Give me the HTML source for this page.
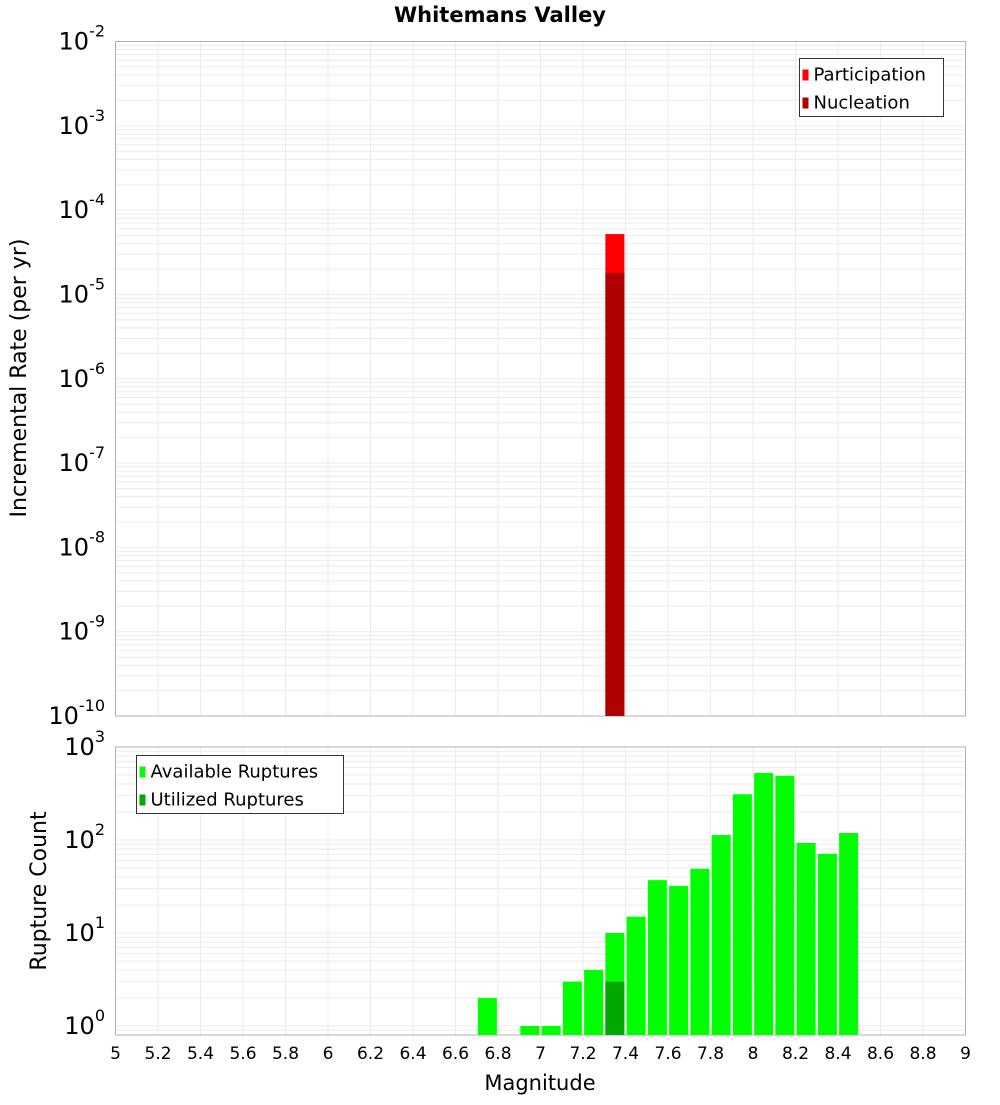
<!DOCTYPE html>
<html><head><meta charset="utf-8"><style>
body{margin:0;background:#fff}
svg text{font-family:"DejaVu Sans","Liberation Sans",sans-serif}
</style></head><body>
<svg id="c" width="1000" height="1100" xmlns="http://www.w3.org/2000/svg">
<text x="500" y="22" text-anchor="middle" font-size="21" font-weight="bold">Whitemans Valley</text>
<g id="topPlot"></g>
<g id="botPlot"></g>
<text transform="translate(26,378) rotate(-90)" text-anchor="middle" font-size="22">Incremental Rate (per yr)</text>
<text transform="translate(46,891) rotate(-90)" text-anchor="middle" font-size="22">Rupture Count</text>
<text x="540" y="1090" text-anchor="middle" font-size="21">Magnitude</text>
</svg>
<script>
const xTicks=["5","5.2","5.4","5.6","5.8","6","6.2","6.4","6.6","6.8","7","7.2","7.4","7.6","7.8","8","8.2","8.4","8.6","8.8","9"];
const rateMags=[7.35];
const participation=[5.2e-5];
const nucleation=[1.8e-5];
const countMags=[6.75,6.95,7.05,7.15,7.25,7.35,7.45,7.55,7.65,7.75,7.85,7.95,8.05,8.15,8.25,8.35,8.45];
const available=[2,1,1,3,4,10,15,37,32,49,113,310,525,490,93,71,119];
const utilizedMags=[7.35];
const utilized=[3];
const topDecades=[-2,-3,-4,-5,-6,-7,-8,-9,-10];
const botDecades=[3,2,1,0];

const NS="http://www.w3.org/2000/svg";
const X0=115.5,X1=965.5;
const xs=m=>X0+(m-5)/4*(X1-X0);
function el(p,t,a){const e=document.createElementNS(NS,t);for(const k in a)e.setAttribute(k,a[k]);p.appendChild(e);return e;}
function plot(g,yTop,yBot,lMax,lMin,decades){
  const ys=v=>yTop+(lMax-Math.log10(v))/(lMax-lMin)*(yBot-yTop);
  for(let d=Math.floor(lMin);d<lMax;d++)for(let k=1;k<10;k++){const v=k*Math.pow(10,d);const y=ys(v);if(y<yTop||y>yBot)continue;
    const l=el(g,'line',{x1:X0,x2:X1,y1:y,y2:y,stroke:'#ebebeb','stroke-width':1});
    
    }
  xTicks.forEach(t=>{const x=xs(+t);const l=el(g,'line',{x1:x,x2:x,y1:yTop,y2:yBot,stroke:'#ebebeb'});
    
    });
  decades.forEach(d=>{const y=ys(Math.pow(10,d));const t=el(g,'text',{x:105,y:y+8,'text-anchor':'end','font-size':24});
    
    
    t.textContent='10';const s=el(t,'tspan',{dy:-13,'font-size':16});s.textContent=String(d);});
  const r=el(g,'rect',{x:X0,y:yTop,width:X1-X0,height:yBot-yTop,fill:'none',stroke:'#b0b0b0'});
  
  
  return ys;
}
const topG=document.getElementById('topPlot'),botG=document.getElementById('botPlot');
const ysT=plot(topG,41.5,716,-2,-10,topDecades);
const bw=19,yb1=716;
rateMags.forEach((m,i)=>{let y=ysT(participation[i]);
  const r=el(topG,'rect',{x:xs(m)-bw/2,y:y,width:bw,height:yb1-y,fill:'#ff0000'});
  
  
  y=ysT(nucleation[i]);
  const n=el(topG,'rect',{x:xs(m)-bw/2,y:y,width:bw,height:yb1-y,fill:'#b00000'});
  
  });
const ysB=plot(botG,747,1035,3,Math.log10(0.8),botDecades);
countMags.forEach((m,i)=>{const y=ysB(available[i]);
  const r=el(botG,'rect',{x:xs(m)-bw/2,y:y,width:bw,height:1035-y,fill:'#00ff00'});
  
  });
utilizedMags.forEach((m,i)=>{const y=ysB(utilized[i]);
  const r=el(botG,'rect',{x:xs(m)-bw/2,y:y,width:bw,height:1035-y,fill:'#00a800'});
  
  });
xTicks.forEach(t=>{const tx=el(botG,'text',{x:xs(+t),y:1059,'text-anchor':'middle','font-size':17});
  
  
  tx.textContent=t;});
function legend(g,x,y,w,items,name){
  const b=el(g,'rect',{x:x,y:y,width:w,height:58,fill:'#fff',stroke:'#333'});
  
  
  items.forEach((it,i)=>{const cy=y+15+i*28;
    const s=el(g,'rect',{x:x+3,y:cy-4,width:6,height:11,fill:it[1]});
    
    
    const t=el(g,'text',{x:x+14,y:cy+7,'font-size':18});
    
    
    t.textContent=it[0];});
}
legend(topG,799.5,58.5,144,[["Participation","#ff0000"],["Nucleation","#b00000"]],'rate-legend');
legend(botG,136.5,755.5,207,[["Available Ruptures","#00ff00"],["Utilized Ruptures","#00a800"]],'count-legend');
</script>
</body></html>
